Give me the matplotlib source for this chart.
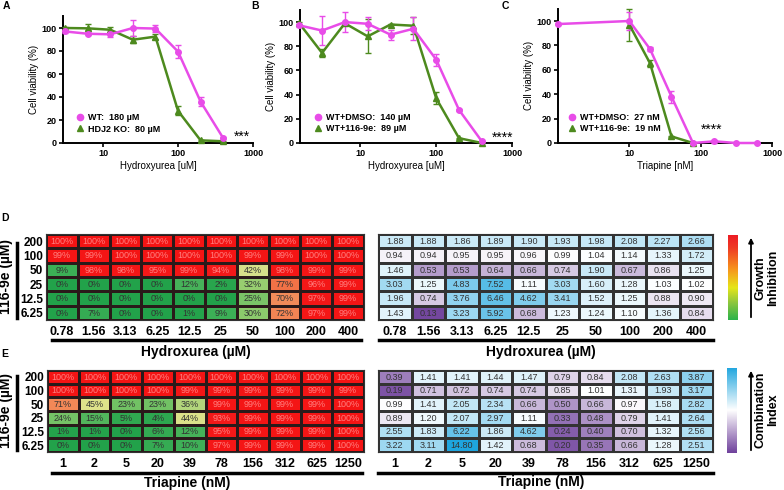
import numpy as np
import matplotlib
matplotlib.use('Agg')
import matplotlib.pyplot as plt
from matplotlib.colors import LinearSegmentedColormap, Normalize
from matplotlib.lines import Line2D
from matplotlib.patches import FancyArrowPatch
from matplotlib.ticker import NullLocator

plt.rcParams['font.family'] = ['Liberation Sans', 'DejaVu Sans']
plt.rcParams['font.weight'] = 'bold'

# ---------------------------------------------
# DATA
# ---------------------------------------------
# panel A: hydroxyurea, WT vs HDJ2 KO
hu_doses_a = [3.125, 6.25, 12.5, 25, 50, 100, 200, 400]
a_wt = [97, 95, 94.5, 100, 99.5, 79.5, 36, 4.3]
a_wt_err = [1.5, 1.5, 2.5, 7, 3, 6, 4, 1]
a_ko = [100, 99.7, 98.5, 89.8, 92.5, 28, 2.3, 1.5]
a_ko_err = [1, 4, 2, 3, 2, 4, 0.5, 0.5]

# panel B: hydroxyurea, WT+DMSO vs WT+116-9e
hu_doses_b = [1.5625, 3.125, 6.25, 12.5, 25, 50, 100, 200, 400]
b_dmso = [97.3, 93, 100, 98.6, 89.6, 94.5, 69, 27.4, 1.4]
b_dmso_err = [1, 12, 8.5, 5.5, 4, 9.5, 5, 1, 0.5]
b_inh = [99, 74.5, 99, 88.2, 98, 97, 37, 4, 0]
b_inh_err = [1, 3, 1, 14, 0.5, 7, 5, 0.5, 0]

# panel C: triapine, WT+DMSO vs WT+116-9e
tri_doses_c = [1, 10, 19.5, 39, 78, 156, 312, 625]
c_dmso = [97.5, 100, 77, 38, 0, 1.4, 0, 0]
c_dmso_err = [0.5, 7, 2, 5, 0.3, 1, 0.3, 0.3]
tri_doses_c2 = [10, 19.5, 39, 78]
c_inh = [97, 65.4, 5.4, 0]
c_inh_err = [13, 3, 0.5, 0]

# heatmaps
inh_rows = ['200', '100', '50', '25', '12.5', '6.25']
hu_cols = ['0.78', '1.56', '3.13', '6.25', '12.5', '25', '50', '100', '200', '400']
tri_cols = ['1', '2', '5', '20', '39', '78', '156', '312', '625', '1250']

d_growth = [
    [100, 100, 100, 100, 100, 100, 100, 100, 100, 100],
    [99, 99, 100, 100, 100, 100, 99, 99, 100, 100],
    [9, 98, 98, 95, 99, 94, 42, 98, 99, 99],
    [0, 0, 0, 0, 12, 2, 32, 77, 96, 99],
    [0, 0, 0, 0, 0, 0, 25, 70, 97, 99],
    [0, 7, 0, 0, 1, 9, 30, 72, 97, 99],
]
d_ci = [
    [1.88, 1.88, 1.86, 1.89, 1.90, 1.93, 1.98, 2.08, 2.27, 2.66],
    [0.94, 0.94, 0.95, 0.95, 0.96, 0.99, 1.04, 1.14, 1.33, 1.72],
    [1.46, 0.53, 0.53, 0.64, 0.66, 0.74, 1.90, 0.67, 0.86, 1.25],
    [3.03, 1.25, 4.83, 7.52, 1.11, 3.03, 1.60, 1.28, 1.03, 1.02],
    [1.96, 0.74, 3.76, 6.46, 4.62, 3.41, 1.52, 1.25, 0.88, 0.90],
    [1.43, 0.13, 3.23, 5.92, 0.68, 1.23, 1.24, 1.10, 1.36, 0.84],
]
e_growth = [
    [100, 100, 100, 100, 100, 100, 100, 100, 100, 100],
    [100, 100, 100, 100, 99, 99, 99, 99, 99, 99],
    [71, 45, 23, 23, 36, 99, 99, 99, 99, 100],
    [24, 15, 5, 4, 44, 93, 99, 99, 99, 100],
    [1, 1, 0, 6, 12, 95, 99, 99, 99, 100],
    [0, 0, 0, 7, 10, 97, 99, 99, 99, 100],
]
e_ci = [
    [0.39, 1.41, 1.41, 1.44, 1.47, 0.79, 0.84, 2.08, 2.63, 3.87],
    [0.19, 0.71, 0.72, 0.74, 0.74, 0.85, 1.01, 1.31, 1.93, 3.17],
    [0.99, 1.41, 2.05, 2.34, 0.66, 0.50, 0.66, 0.97, 1.58, 2.82],
    [0.89, 1.20, 2.07, 2.97, 1.11, 0.33, 0.48, 0.79, 1.41, 2.64],
    [2.55, 1.83, 6.22, 1.86, 4.62, 0.24, 0.40, 0.70, 1.32, 2.56],
    [3.22, 3.11, 14.80, 1.42, 0.68, 0.20, 0.35, 0.66, 1.28, 2.51],
]

# ---------------------------------------------
# STYLE
# ---------------------------------------------
PINK = '#e84ce8'
GREEN = '#4d8a1e'
W, H = 784, 490

growth_cmap = LinearSegmentedColormap.from_list('growth', [
    (0.0, '#22a24a'), (0.1, '#3fb057'), (0.3, '#8dca6c'),
    (0.42, '#d6e08a'), (0.5, '#eae48a'), (0.7, '#f28c5a'),
    (0.8, '#f2683f'), (0.9, '#f31c1c'), (1.0, '#f41414')])
growth_bar_cmap = LinearSegmentedColormap.from_list('growth_bar', [
    (0.0, '#2bb34a'), (0.2, '#8cc63f'), (0.38, '#e6e619'),
    (0.6, '#f7941d'), (0.85, '#ef3b24'), (1.0, '#ed1c24')])
ci_cmap = LinearSegmentedColormap.from_list('ci', [
    (0.0, '#6f419c'), (0.5, '#ffffff'), (1.0, '#1ea5de')])
CI_MIN, CI_MAX = 0.1, 14.8


def box(x0, y0, x1, y1):
    return [x0 / W, 1 - y1 / H, (x1 - x0) / W, (y1 - y0) / H]


def fx(x):
    return x / W


def fy(y):
    return 1 - y / H


def ci_scale(ci):
    ci = np.asarray(ci, dtype=float)
    return np.where(ci < 1, -(1 - ci) / (1 - CI_MIN),
                    np.log(ci) / np.log(CI_MAX))


fig = plt.figure(figsize=(7.84, 4.9), dpi=100)


# ---------------------------------------------
# TOP ROW: VIABILITY CURVES
# ---------------------------------------------
def curve_panel(rect, series, labels, xlim, xlabel, leg_anchor):
    ax = fig.add_axes(rect)
    handles = []
    for (d, y, e, col, mk) in series:
        c = ax.errorbar(d, y, yerr=e, color=col, marker=mk, markersize=4,
                        lw=1.8, elinewidth=1, capsize=2.5, capthick=1,
                        zorder=3)
        c.lines[0].set_clip_on(False)
        for art in c.lines[1] + c.lines[2]:
            art.set_clip_on(False)
        handles.append(Line2D([], [], color=col, marker=mk, markersize=4.5,
                              linestyle='none'))
    ax.set_xscale('log')
    ax.set_xlim(xlim)
    ax.set_ylim(0, 110)
    ax.set_yticks([0, 20, 40, 60, 80, 100])
    ax.set_xticks([10, 100, 1000])
    ax.set_xticklabels(['10', '100', '1000'])
    ax.xaxis.set_minor_locator(NullLocator())
    for s in ['top', 'right']:
        ax.spines[s].set_visible(False)
    for s in ['left', 'bottom']:
        ax.spines[s].set_linewidth(1.4)
    ax.tick_params(labelsize=6.5, width=1.2, length=3, pad=1.5)
    ax.set_ylabel('Cell viability (%)', fontsize=7, labelpad=2)
    ax.set_xlabel(xlabel, fontsize=7, labelpad=2)
    ax.legend(handles[::-1], labels, loc='lower left',
              bbox_to_anchor=leg_anchor, frameon=False, fontsize=6.5,
              handlelength=1.0, handletextpad=0.4, borderpad=0,
              borderaxespad=0, labelspacing=0.25)
    return ax


curve_panel(box(63, 16.5, 253, 143),
            [(hu_doses_a, a_ko, a_ko_err, GREEN, '^'),
             (hu_doses_a, a_wt, a_wt_err, PINK, 'o')],
            ['WT:  180 µM', 'HDJ2 KO:  80 µM'],
            (2.93, 1000), 'Hydroxyurea [uM]', (0.066, 0.075))
curve_panel(box(300, 10, 512, 143),
            [(hu_doses_b, b_inh, b_inh_err, GREEN, '^'),
             (hu_doses_b, b_dmso, b_dmso_err, PINK, 'o')],
            ['WT+DMSO:  140 µM', 'WT+116-9e:  89 µM'],
            (1.6, 1000), 'Hydroxyurea [uM]', (0.064, 0.075))
curve_panel(box(558, 8.8, 772, 143),
            [(tri_doses_c2, c_inh, c_inh_err, GREEN, '^'),
             (tri_doses_c, c_dmso, c_dmso_err, PINK, 'o')],
            ['WT+DMSO:  27 nM', 'WT+116-9e:  19 nM'],
            (1, 1000), 'Triapine [nM]', (0.044, 0.075))

fig.text(fx(242), fy(137), '***', ha='center', va='center',
         fontsize=10, fontweight='normal')
fig.text(fx(503), fy(138), '****', ha='center', va='center',
         fontsize=10, fontweight='normal')
fig.text(fx(712), fy(130), '****', ha='center', va='center',
         fontsize=10, fontweight='normal')

for letter, (x, y) in {'A': (6, 6), 'B': (255, 6), 'C': (505, 6),
                       'D': (5, 218), 'E': (5, 354)}.items():
    fig.text(fx(x), fy(y), letter, ha='center', va='center', fontsize=7.5)


# ---------------------------------------------
# BOTTOM: HEATMAPS
# ---------------------------------------------
def heat_panel(rect, vals, kind, cols, show_rows):
    ax = fig.add_axes(rect)
    vals = np.array(vals, dtype=float)
    nr, nc = vals.shape
    if kind == 'growth':
        ax.pcolormesh(vals, cmap=growth_cmap, norm=Normalize(0, 100),
                      edgecolors='#2a1a1a', linewidth=0.8)
    else:
        ax.pcolormesh(ci_scale(vals), cmap=ci_cmap, norm=Normalize(-1, 1),
                      edgecolors='#333333', linewidth=0.8)
    for i in range(nr):
        for j in range(nc):
            v = vals[i, j]
            if kind == 'growth':
                txt = f'{int(v)}%'
                col = '#ff8080' if v >= 90 else '#333333'
            else:
                txt = f'{v:.2f}'
                col = '#333333'
            ax.text(j + 0.5, i + 0.52, txt, ha='center', va='center',
                    fontsize=6.5, fontweight='normal', color=col)
    ax.set_xlim(0, nc)
    ax.set_ylim(nr, 0)
    ax.set_xticks(np.arange(nc) + 0.5)
    ax.set_xticklabels(cols)
    ax.tick_params(axis='x', length=0, pad=4, labelsize=9)
    if show_rows:
        ax.set_yticks(np.arange(nr) + 0.5)
        ax.set_yticklabels(inh_rows)
        ax.tick_params(axis='y', length=0, pad=2, labelsize=8.5)
    else:
        ax.set_yticks([])
    for s in ax.spines.values():
        s.set_linewidth(0.8)
        s.set_color('#333333')
    return ax


heat_panel(box(46, 234, 364, 320), d_growth, 'growth', hu_cols, True)
heat_panel(box(378, 234, 713, 320), d_ci, 'ci', hu_cols, False)
heat_panel(box(47, 370, 364, 452), e_growth, 'growth', tri_cols, True)
heat_panel(box(378, 370, 713, 452), e_ci, 'ci', tri_cols, False)

# under-lines and axis titles
for (x0, x1, y) in [(52, 361, 340), (379, 713, 340),
                    (52, 362, 473), (378, 713, 473)]:
    fig.add_artist(Line2D([fx(x0), fx(x1)], [fy(y), fy(y)],
                          lw=2.5, color='black'))
fig.text(fx(196), fy(352), 'Hydroxurea (µM)', ha='center', va='center',
         fontsize=10)
fig.text(fx(541), fy(352), 'Hydroxurea (µM)', ha='center', va='center',
         fontsize=10)
fig.text(fx(187), fy(483), 'Triapine (nM)', ha='center', va='center',
         fontsize=10)
fig.text(fx(541), fy(482), 'Triapine (nM)', ha='center', va='center',
         fontsize=10)

# row titles
for (yc, y0, y1) in [(277, 243, 318), (411, 376, 450)]:
    fig.text(fx(6), fy(yc), '116-9e (µM)', rotation=90, ha='center',
             va='center', fontsize=10)
    fig.add_artist(Line2D([fx(16.5), fx(16.5)], [fy(y0), fy(y1)],
                          lw=2.5, color='black'))

# colour keys
gradient = np.linspace(0, 1, 256).reshape(-1, 1)
for (rect, cmap, label, yc) in [
        (box(728, 235, 738, 320), growth_bar_cmap, 'Growth\nInhibition', 278),
        (box(727, 368, 737, 453), ci_cmap, 'Combination\nIndex', 410)]:
    cax = fig.add_axes(rect)
    cax.imshow(gradient, cmap=cmap, aspect='auto', origin='lower')
    cax.axis('off')
    y_bot = (1 - rect[1]) * H
    y_top = y_bot - rect[3] * H
    fig.add_artist(FancyArrowPatch((fx(751), fy(y_bot)), (fx(751), fy(y_top)),
                                   transform=fig.transFigure,
                                   arrowstyle='-|>', mutation_scale=7,
                                   lw=1.3, color='black'))
    fig.text(fx(767), fy(yc), label, rotation=90, ha='center', va='center',
             fontsize=9, linespacing=1.0)

fig.savefig('out.png', dpi=100, facecolor='white')
